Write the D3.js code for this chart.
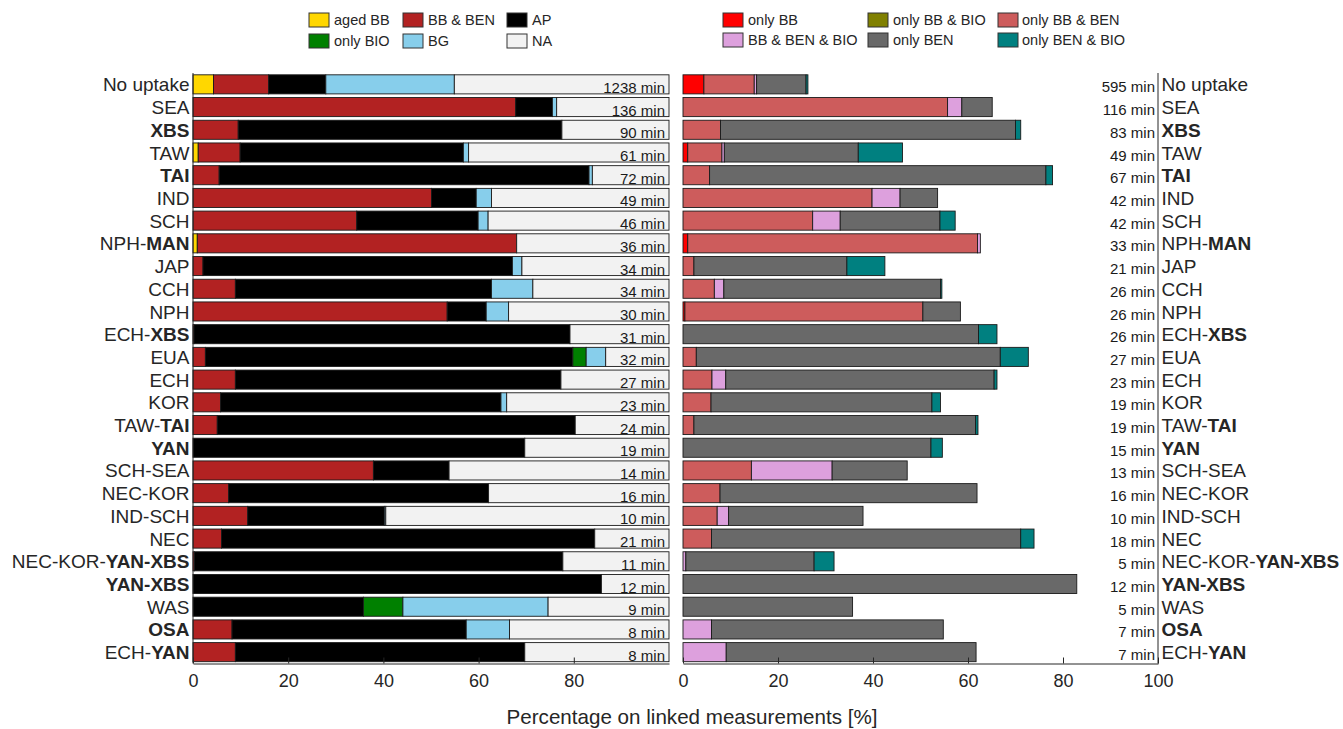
<!DOCTYPE html>
<html>
<head>
<meta charset="utf-8">
<script src="https://cdn.jsdelivr.net/npm/d3@7"></script>
<style>
  html, body { margin: 0; padding: 0; background: #fff; }
  svg { display: block; font-family: "Liberation Sans", Arial, Helvetica, sans-serif; }
</style>
</head>
<body>
<svg id="chart" width="1343" height="729"></svg>
<script>
// Categories (top to bottom); station names in boldStations are set in bold
const categories = ["No uptake","SEA","XBS","TAW","TAI","IND","SCH","NPH-MAN","JAP","CCH","NPH","ECH-XBS","EUA","ECH","KOR","TAW-TAI","YAN","SCH-SEA","NEC-KOR","IND-SCH","NEC","NEC-KOR-YAN-XBS","YAN-XBS","WAS","OSA","ECH-YAN"];
const boldStations = ["XBS","TAI","MAN","YAN","OSA"];

// Left panel: linked-measurement shares (%)
const agedBB  = [4.3,0,0,1.1,0,0,0,0.9,0,0,0,0,0,0,0,0,0,0,0,0,0,0,0,0,0,0];
const bbBen   = [11.6,67.8,9.5,8.8,5.5,50.1,34.4,67.1,2.1,8.9,53.4,0.2,2.6,8.9,5.8,5.1,0,37.9,7.5,11.5,6.0,0.3,0,0,8.2,8.9];
const ap      = [12.0,7.7,68.0,46.9,77.7,9.4,25.5,0,65.0,53.8,8.2,79.0,77.2,68.4,58.9,75.2,69.7,15.9,54.6,28.7,78.4,77.4,85.8,35.8,49.2,60.8];
const onlyBio = [0,0,0,0,0,0,0,0,0,0,0,0,2.8,0,0,0,0,0,0,0,0,0,0,8.3,0,0];
const bg      = [27.0,0.9,0,1.1,0.7,3.2,2.1,0,2.0,8.7,4.7,0,4.1,0,1.2,0,0,0,0,0.3,0,0,0,30.5,9.1,0];
const na      = [45.1,23.6,22.5,42.1,16.1,37.3,38.0,32.0,30.9,28.6,33.7,20.8,13.3,22.7,34.1,19.7,30.3,46.2,37.9,59.5,15.6,22.3,14.2,25.4,33.5,30.3];
const leftMinutes = [1238,136,90,61,72,49,46,36,34,34,30,31,32,27,23,24,19,14,16,10,21,11,12,9,8,8];

// Right panel: shares (%)
const onlyBB       = [4.4,0,0,1.0,0,0,0,1.0,0,0,0.4,0,0,0,0,0,0,0,0,0,0,0,0,0,0,0];
const onlyBBBen    = [10.6,55.7,7.9,7.2,5.6,39.8,27.3,61.0,2.3,6.6,50.1,0,2.8,6.1,5.9,2.3,0,14.4,7.8,7.2,6.0,0,0,0,0,0];
const bbBenBio     = [0.5,3.0,0,0.5,0,5.9,5.8,0.6,0,2.0,0,0,0,2.9,0,0,0,17.0,0,2.4,0,0.6,0,0,6.0,9.1];
const onlyBBBio    = [0,0,0,0,0,0,0,0,0,0,0,0,0,0,0,0,0,0,0,0,0,0,0,0,0,0];
const onlyBen      = [10.4,6.4,62.1,28.2,70.8,7.9,21.0,0,32.2,45.6,7.9,62.2,64.0,56.5,46.5,59.3,52.2,15.8,54.1,28.3,65.1,27.0,82.9,35.7,48.8,52.6];
const onlyBenBio   = [0.4,0,1.1,9.3,1.4,0,3.2,0,8.0,0.3,0,3.9,5.9,0.6,1.8,0.5,2.4,0,0,0,2.8,4.2,0,0,0,0];
const rightMinutes = [595,116,83,49,67,42,42,33,21,26,26,26,27,23,19,19,15,13,16,10,18,5,12,5,7,7];

const xTicksLeft  = [0,20,40,60,80];
const xTicksRight = [0,20,40,60,80,100];

const leftSeries = [
  {name: "aged BB",  values: agedBB,  color: "#FFD700"},
  {name: "BB & BEN", values: bbBen,   color: "#B22222"},
  {name: "AP",       values: ap,      color: "#000000"},
  {name: "only BIO", values: onlyBio, color: "#008000"},
  {name: "BG",       values: bg,      color: "#87CEEB"},
  {name: "NA",       values: na,      color: "#F2F2F2"}
];
const rightSeries = [
  {name: "only BB",          values: onlyBB,     color: "#FF0000"},
  {name: "only BB & BEN",    values: onlyBBBen,  color: "#CD5C5C"},
  {name: "BB & BEN & BIO",   values: bbBenBio,   color: "#DDA0DD"},
  {name: "only BB & BIO",    values: onlyBBBio,  color: "#808000"},
  {name: "only BEN",         values: onlyBen,    color: "#696969"},
  {name: "only BEN & BIO",   values: onlyBenBio, color: "#008080"}
];

const ink = "#262626";
const svg = d3.select("#chart");

const plotTop = 73, plotBottom = 663.5;
const y = d3.scaleBand().domain(categories).range([plotTop, plotBottom]).paddingInner(0.16).paddingOuter(0.08);
const xL = d3.scaleLinear().domain([0, 100]).range([193, 669]);
const xR = d3.scaleLinear().domain([0, 100]).range([683, 1158]);

function stackRows(series) {
  const keys = series.map(s => s.name);
  const rows = categories.map((c, i) => {
    const r = {cat: c};
    series.forEach(s => r[s.name] = s.values[i]);
    return r;
  });
  return d3.stack().keys(keys)(rows);
}

function drawBars(series, x) {
  const stacked = stackRows(series);
  const g = svg.append("g");
  stacked.forEach((layer, li) => {
    g.append("g").attr("fill", series[li].color)
      .selectAll("rect").data(layer).join("rect")
      .attr("x", d => x(d[0]))
      .attr("y", d => y(d.data.cat))
      .attr("width", d => Math.max(0, x(d[1]) - x(d[0])))
      .attr("height", y.bandwidth())
      .attr("stroke", "#1a1a1a")
      .attr("stroke-width", 0.9);
  });
}

drawBars(leftSeries, xL);
drawBars(rightSeries, xR);

// Category labels with bold station names
function labelParts(label) {
  const parts = label.split("-");
  const out = [];
  parts.forEach((p, i) => {
    const b = boldStations.includes(p);
    if (i > 0) {
      const prevB = boldStations.includes(parts[i - 1]);
      out.push({t: "-", b: b && prevB});
    }
    out.push({t: p, b: b});
  });
  return out;
}
function drawCatLabels(xPos, anchor) {
  const t = svg.append("g").selectAll("text").data(categories).join("text")
    .attr("x", xPos)
    .attr("y", d => y(d) + y.bandwidth() - 2.5)
    .attr("text-anchor", anchor)
    .attr("font-size", 19)
    .attr("fill", ink);
  t.selectAll("tspan").data(d => labelParts(d)).join("tspan")
    .attr("font-weight", d => d.b ? "bold" : "normal")
    .text(d => d.t);
}
drawCatLabels(189.5, "end");
drawCatLabels(1161.5, "start");

// Duration labels
svg.append("g").selectAll("text").data(categories).join("text")
  .attr("x", 665).attr("y", d => y(d) + y.bandwidth() - 1)
  .attr("text-anchor", "end").attr("font-size", 15).attr("fill", "#1a1a1a")
  .text((d, i) => leftMinutes[i] + " min");
svg.append("g").selectAll("text").data(categories).join("text")
  .attr("x", 1155).attr("y", d => y(d) + y.bandwidth() - 1.5)
  .attr("text-anchor", "end").attr("font-size", 15).attr("fill", "#1a1a1a")
  .text((d, i) => rightMinutes[i] + " min");

// Axes
function styleAxis(g) {
  g.selectAll("path").attr("stroke", ink);
  g.selectAll("line").attr("stroke", ink);
  g.selectAll("text").attr("font-size", 18).attr("fill", ink).attr("font-family", "Liberation Sans, Arial, sans-serif");
}
svg.append("g").attr("transform", `translate(0,${plotBottom})`)
  .call(d3.axisBottom(xL).tickValues(xTicksLeft).tickSizeInner(-6).tickSizeOuter(0).tickPadding(11).tickFormat(d3.format("d")))
  .call(styleAxis);
svg.append("g").attr("transform", `translate(0,${plotBottom})`)
  .call(d3.axisBottom(xR).tickValues(xTicksRight).tickSizeInner(-6).tickSizeOuter(0).tickPadding(11).tickFormat(d3.format("d")))
  .call(styleAxis);
svg.append("line").attr("x1", xL(0)).attr("x2", xL(0)).attr("y1", plotTop).attr("y2", plotBottom).attr("stroke", ink);
svg.append("line").attr("x1", xR(100)).attr("x2", xR(100)).attr("y1", plotTop).attr("y2", plotBottom).attr("stroke", ink);

svg.append("text").attr("x", 692).attr("y", 724).attr("text-anchor", "middle")
  .attr("font-size", 20.6).attr("fill", ink).text("Percentage on linked measurements [%]");

// Legends
function drawLegend(items, colX, textX, rowY) {
  const g = svg.append("g");
  items.forEach((s, i) => {
    const col = Math.floor(i / 2), row = i % 2;
    g.append("rect").attr("x", colX[col]).attr("y", rowY[row]).attr("width", 20).attr("height", 14)
      .attr("fill", s.color).attr("stroke", "#333").attr("stroke-width", 1);
    g.append("text").attr("x", textX[col]).attr("y", rowY[row] + 12)
      .attr("font-size", 14.5).attr("fill", ink).text(s.name);
  });
}
const leftLegendOrder = ["aged BB","only BIO","BB & BEN","BG","AP","NA"].map(n => leftSeries.find(s => s.name === n));
const rightLegendOrder = ["only BB","BB & BEN & BIO","only BB & BIO","only BEN","only BB & BEN","only BEN & BIO"].map(n => rightSeries.find(s => s.name === n));
drawLegend(leftLegendOrder, [309, 403, 507], [334, 428, 532], [13, 34]);
drawLegend(rightLegendOrder, [723, 868, 998], [748, 893, 1022], [13, 33]);
</script>
</body>
</html>
